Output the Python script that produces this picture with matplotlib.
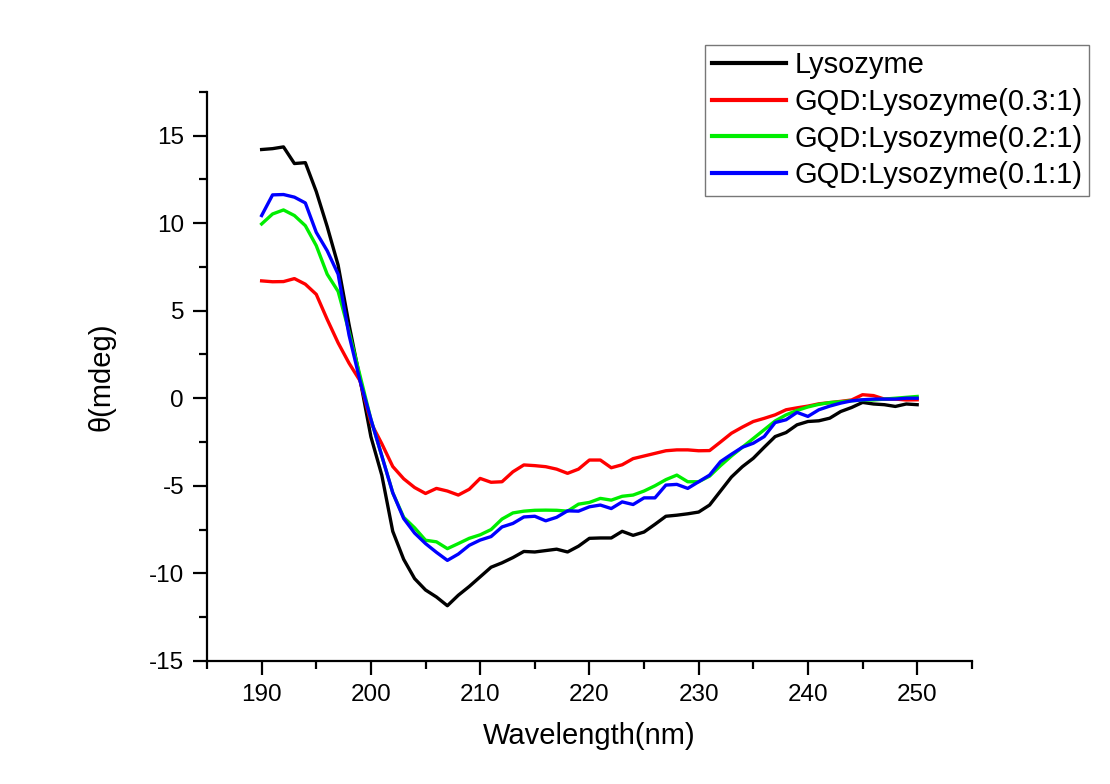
import matplotlib
matplotlib.use('Agg')
import matplotlib.pyplot as plt
from matplotlib.ticker import MultipleLocator

plt.rcParams['font.family'] = ['Liberation Sans', 'DejaVu Sans']
plt.rcParams['axes.unicode_minus'] = False

# wavelength (nm), 1 nm steps
wavelength = list(range(190, 251))

lysozyme = [14.2, 14.25, 14.35, 13.4, 13.45, 11.8, 9.8, 7.6, 4.2, 1.1,
            -2.2, -4.4, -7.6, -9.2, -10.3, -10.95, -11.35, -11.85, -11.25, -10.75,
            -10.2, -9.65, -9.4, -9.1, -8.75, -8.78, -8.7, -8.62, -8.78, -8.45,
            -8.0, -7.98, -7.98, -7.6, -7.83, -7.64, -7.2, -6.74, -6.68, -6.6,
            -6.5, -6.1, -5.3, -4.5, -3.91, -3.43, -2.8, -2.19, -1.96, -1.52,
            -1.33, -1.29, -1.14, -0.76, -0.53, -0.24, -0.33, -0.37, -0.47, -0.33,
            -0.37]

gqd_03 = [6.7, 6.65, 6.66, 6.83, 6.51, 5.93, 4.5, 3.16, 2.0, 1.0,
          -1.4, -2.6, -3.9, -4.6, -5.1, -5.44, -5.15, -5.3, -5.53, -5.2,
          -4.58, -4.8, -4.77, -4.2, -3.81, -3.85, -3.91, -4.05, -4.29, -4.05,
          -3.53, -3.53, -3.97, -3.8, -3.45, -3.3, -3.15, -3.0, -2.95, -2.95,
          -3.0, -2.99, -2.5, -2.0, -1.65, -1.33, -1.15, -0.95, -0.66, -0.55,
          -0.45, -0.32, -0.25, -0.18, -0.1, 0.2, 0.15, -0.05, -0.05, -0.1,
          -0.09]

gqd_02 = [9.95, 10.52, 10.75, 10.43, 9.85, 8.71, 7.08, 6.1, 3.8, 1.3,
          -1.2, -3.3, -5.4, -6.8, -7.4, -8.11, -8.2, -8.59, -8.3, -8.0,
          -7.8, -7.5, -6.9, -6.55, -6.45, -6.4, -6.39, -6.4, -6.45, -6.05,
          -5.95, -5.72, -5.82, -5.6, -5.53, -5.3, -5.0, -4.65, -4.39, -4.77,
          -4.77, -4.45, -3.85, -3.3, -2.8, -2.3, -1.8, -1.3, -0.95, -0.7,
          -0.5, -0.35, -0.25, -0.2, -0.15, -0.1, -0.1, -0.05, 0.0, 0.05,
          0.1]

gqd_01 = [10.43, 11.61, 11.63, 11.48, 11.15, 9.47, 8.42, 7.08, 3.6, 1.0,
          -1.2, -3.3, -5.4, -6.87, -7.7, -8.3, -8.8, -9.26, -8.9, -8.4,
          -8.1, -7.9, -7.35, -7.15, -6.78, -6.74, -7.0, -6.8, -6.43, -6.45,
          -6.2, -6.1, -6.3, -5.92, -6.07, -5.69, -5.69, -4.96, -4.92, -5.15,
          -4.77, -4.39, -3.62, -3.2, -2.8, -2.57, -2.19, -1.39, -1.23, -0.81,
          -1.04, -0.66, -0.45, -0.28, -0.15, -0.09, -0.05, -0.05, -0.05, 0.0,
          0.0]

labels = ['Lysozyme', 'GQD:Lysozyme(0.3:1)', 'GQD:Lysozyme(0.2:1)', 'GQD:Lysozyme(0.1:1)']
colors = ['#000000', '#ff0000', '#00ee00', '#0000ff']

fig = plt.figure(figsize=(11.1, 7.84), dpi=100)
ax = fig.add_axes([0.1865, 0.157, 0.689, 0.726])

for y, lab, c in zip([lysozyme, gqd_03, gqd_02, gqd_01], labels, colors):
    ax.plot(wavelength, y, color=c, lw=2.4, label=lab)

ax.set_xlim(185, 255)
ax.set_ylim(-15, 17.5)
ax.xaxis.set_minor_locator(MultipleLocator(5))
ax.yaxis.set_minor_locator(MultipleLocator(2.5))
ax.set_xticks(range(190, 251, 10))
ax.set_xticklabels([str(v) for v in range(190, 251, 10)])
ax.set_yticks(range(-15, 16, 5))
ax.set_yticklabels([str(v) for v in range(-15, 16, 5)])

for s in ['top', 'right']:
    ax.spines[s].set_visible(False)
for s in ['left', 'bottom']:
    ax.spines[s].set_linewidth(1.6)

ax.tick_params(which='major', direction='out', length=10, width=1.6, labelsize=17.5, pad=6.5)
ax.tick_params(which='minor', direction='out', length=6, width=1.6)

ax.set_xlabel('Wavelength(nm)', fontsize=21, labelpad=12)
ax.set_ylabel('θ(mdeg)', fontsize=21, labelpad=24)

leg = ax.legend(loc='upper right', bbox_to_anchor=(0.981, 0.943), bbox_transform=fig.transFigure,
                fontsize=21, frameon=True, fancybox=False, edgecolor='#555555',
                handlelength=2.55, handletextpad=0.28, labelspacing=0.3,
                borderpad=0.22, borderaxespad=0)
leg.get_frame().set_linewidth(1.0)
for line in leg.get_lines():
    line.set_linewidth(3)

fig.savefig('out.png', dpi=100)
